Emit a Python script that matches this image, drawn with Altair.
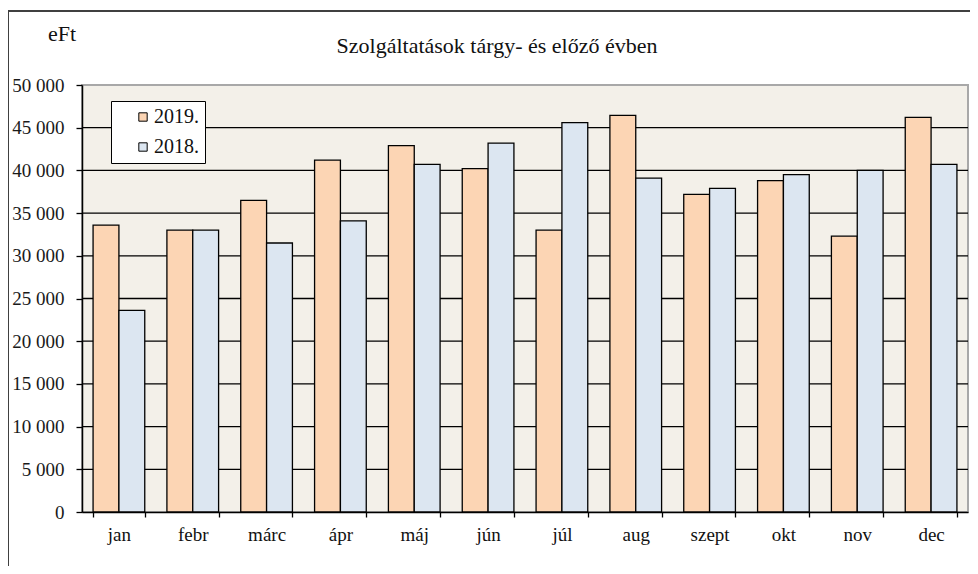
import altair as alt
import pandas as pd

months = ["jan", "febr", "márc", "ápr", "máj", "jún", "júl", "aug", "szept", "okt", "nov", "dec"]
years = ["2019.", "2018."]
values_2019 = [33600, 33000, 36500, 41200, 42900, 40200, 33000, 46450, 37200, 38800, 32300, 46200]
values_2018 = [23600, 33000, 31500, 34100, 40700, 43200, 45600, 39100, 37900, 39500, 40000, 40700]
y_ticks = [0, 5000, 10000, 15000, 20000, 25000, 30000, 35000, 40000, 45000, 50000]
colors = ["#FCD5B4", "#DCE6F1"]
title_text = "Szolgáltatások  tárgy-  és előző  évben"
unit_text = "eFt"

rows = []
for m, a, b in zip(months, values_2019, values_2018):
    rows.append({"month": m, "year": years[0], "value": a})
    rows.append({"month": m, "year": years[1], "value": b})
df = pd.DataFrame(rows)
grid_df = pd.DataFrame({"value": y_ticks[1:-1]})
one = pd.DataFrame({"a": [0]})

FONT = "Times New Roman, Liberation Serif, serif"
W, H = 886, 427
PL, PT = 74, 77

yscale = alt.Scale(domain=[0, 50000], nice=False)

grid = alt.Chart(grid_df).mark_rule(color="black", strokeWidth=1.3).encode(
    y=alt.Y(
        "value:Q",
        scale=yscale,
        axis=alt.Axis(
            title=None, values=y_ticks, grid=False, tickSize=6, tickColor="black",
            tickWidth=1.3, domainColor="black", domainWidth=1.5,
            labelFont=FONT, labelFontSize=19, labelColor="#1a1a1a", labelPadding=12,
            labelExpr="replace(format(datum.value, ','), ',', ' ')",
        ),
    )
)

bars = alt.Chart(df).mark_bar(stroke="black", strokeWidth=1.3).encode(
    x=alt.X(
        "month:N",
        sort=months,
        scale=alt.Scale(paddingInner=0.3, paddingOuter=0.15),
        axis=alt.Axis(
            title=None, labelAngle=0, tickBand="extent", tickSize=5,
            tickColor="black", domainColor="black", domainWidth=1.5, tickWidth=1.3,
            labelFont=FONT, labelFontSize=19, labelColor="#111", labelPadding=8,
        ),
    ),
    xOffset=alt.XOffset("year:N", sort=years, scale=alt.Scale(paddingInner=0, paddingOuter=0)),
    y=alt.Y("value:Q", scale=yscale),
    color=alt.Color(
        "year:N",
        sort=years,
        scale=alt.Scale(domain=years, range=colors),
        legend=alt.Legend(
            title=None, orient="none", legendX=29, legendY=16,
            fillColor="white", strokeColor="black", padding=6,
            symbolType="square", symbolSize=70, symbolStrokeColor="black",
            symbolStrokeWidth=1, symbolOffset=16, labelOffset=1,
            labelFont=FONT, labelFontSize=20, labelColor="#111", rowPadding=10,
        ),
    ),
)

frame_top = alt.Chart(one).mark_rule(color="#404040", strokeWidth=2).encode(
    x=alt.value(-PL), x2=alt.value(W + 10), y=alt.value(-74)
)
frame_left = alt.Chart(one).mark_rule(color="#404040", strokeWidth=2).encode(
    x=alt.value(-PL), y=alt.value(-74), y2=alt.value(H + 60)
)
title = alt.Chart(one).mark_text(
    text=title_text, font=FONT, fontSize=22, color="#111", align="center", baseline="alphabetic"
).encode(x=alt.value(415), y=alt.value(-32))
unit = alt.Chart(one).mark_text(
    text=unit_text, font=FONT, fontSize=22, color="#111", align="left", baseline="alphabetic"
).encode(x=alt.value(-34), y=alt.value(-44))

chart = alt.layer(grid, bars, frame_top, frame_left, title, unit).properties(
    width=W, height=H,
    autosize=alt.AutoSizeParams(type="none"),
    padding={"left": PL, "top": PT, "right": 2, "bottom": 54},
).configure_view(stroke="#A8A8A8", strokeWidth=2, fill="#F3F0E9")

chart.save("out.html", embed_options={"renderer": "svg", "actions": False})
